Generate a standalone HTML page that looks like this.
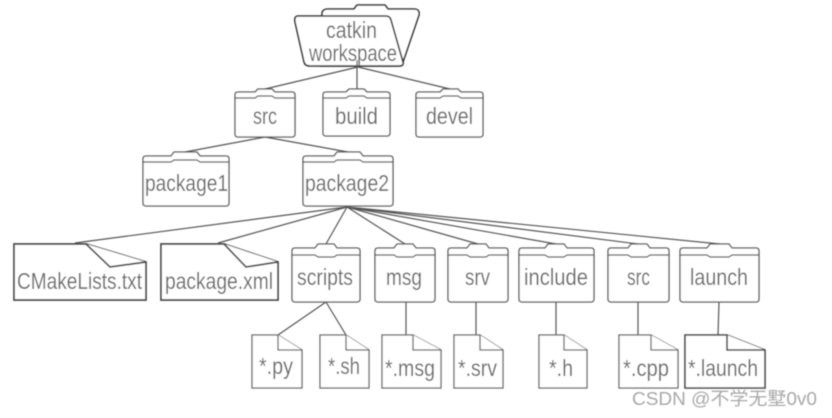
<!DOCTYPE html>
<html><head><meta charset="utf-8"><style>
html,body{margin:0;padding:0;background:#fff;width:832px;height:418px;overflow:hidden}
svg{display:block}
text{font-family:"Liberation Sans","Noto Sans CJK SC",sans-serif;font-size:23px;fill:#6a6a6a}
.l{stroke:#555;stroke-width:1.2;fill:none}
.f{stroke:#555;stroke-width:1.3;fill:#fff;stroke-linejoin:round}
.t{stroke:#333;stroke-width:1.6;fill:#fff;stroke-linejoin:round}
.d{stroke:#444;stroke-width:1.7;fill:#fff}
.m{stroke:#666;stroke-width:1.3;fill:#fff}
</style></head><body>
<svg width="832" height="418" viewBox="0 0 832 418" xmlns="http://www.w3.org/2000/svg">
<defs><filter id="b" x="-2%" y="-2%" width="104%" height="104%"><feGaussianBlur stdDeviation="0.4"/></filter></defs>
<g filter="url(#b)">
<!-- top folder -->
<path class="t" d="M322 14Q322 9 328 9H354L357 5H385L388 9H414Q420 9 419 15L403 62Q402 66 397 66H320Z"/>
<path class="t" d="M298 16H386Q390 16 391 20L403 62Q404 66 399 66H310Q305 66 304 62L295 22Q294 16 298 16Z"/>
<!-- connectors -->
<g class="l">
<path d="M358 67L265 89M357 60V89M358 67L450 89"/>
<path d="M265 137L185 152M265 137L348 152"/>
<path d="M347 207L75 243M347 207L218 243M347 207L326 244M347 207L405 244M347 207L478 244M347 207L556 244M347 207L638 244M347 207L720 244"/>
<path d="M326 302L278 335M326 302L346 335M406 302V335M476 302V335M556 302V335M638 302V335M719 302L718 335"/>
</g>
<!-- folders -->
<g class="f">
<path d="M238 92H255L258 89H272L275 92H292Q295 92 295 95V134Q295 137 292 137H238Q235 137 235 134V95Q235 92 238 92Z"/><path d="M235 98H255L258 96H272L275 98H295"/>
<path d="M326 92H346L349 89H364L367 92H387Q390 92 390 95V133Q390 136 387 136H326Q323 136 323 133V95Q323 92 326 92Z"/><path d="M323 98H346L349 96H364L367 98H390"/>
<path d="M419 92H440L443 89H458L461 92H480Q483 92 483 95V134Q483 137 480 137H419Q416 137 416 134V95Q416 92 419 92Z"/><path d="M416 98H440L443 96H458L461 98H483"/>
<path d="M146 156H171L174 152H197L200 156H226Q229 156 229 159V203Q229 206 226 206H146Q143 206 143 203V159Q143 156 146 156Z"/><path d="M143 162H171L174 160H197L200 162H229"/>
<path d="M306 156H334L337 152H360L363 156H390Q393 156 393 159V203Q393 206 390 206H306Q303 206 303 203V159Q303 156 306 156Z"/><path d="M303 162H334L337 160H360L363 162H393"/>
<path d="M295 248H315L318 244H334L337 248H357Q360 248 360 251V299Q360 302 357 302H295Q292 302 292 299V251Q292 248 295 248Z"/><path d="M292 255H315L318 257H334L337 255H360"/>
<path d="M378 248H394L397 244H413L416 248H432Q435 248 435 251V299Q435 302 432 302H378Q375 302 375 299V251Q375 248 378 248Z"/><path d="M375 255H394L397 257H413L416 255H435"/>
<path d="M451 248H467L470 244H486L489 248H505Q508 248 508 251V299Q508 302 505 302H451Q448 302 448 299V251Q448 248 451 248Z"/><path d="M448 255H467L470 257H486L489 255H508"/>
<path d="M522 248H545L548 244H564L567 248H591Q594 248 594 251V299Q594 302 591 302H522Q519 302 519 299V251Q519 248 522 248Z"/><path d="M519 255H545L548 257H564L567 255H594"/>
<path d="M611 248H628L631 244H647L650 248H666Q669 248 669 251V299Q669 302 666 302H611Q608 302 608 299V251Q608 248 611 248Z"/><path d="M608 255H628L631 257H647L650 255H669"/>
<path d="M683 248H707L710 244H729L732 248H756Q759 248 759 251V299Q759 302 756 302H683Q680 302 680 299V251Q680 248 683 248Z"/><path d="M680 255H707L710 257H729L732 255H759"/>
</g>
<!-- dark documents -->
<g class="d">
<path d="M14 244H86L146 262V300H14Z"/><path d="M86 244L110 267L146 262"/>
<path d="M161 244H224L278 262V300H161Z"/><path d="M224 244L246 267L278 262"/>
</g>
<!-- small documents -->
<g class="m">
<path d="M252 335H278L302 350V388H252Z"/><path d="M278 335V350H302"/>
<path d="M320 335H346L369 350V388H320Z"/><path d="M346 335V350H369"/>
<path d="M382 335H413L441 350V388H382Z"/><path d="M413 335V350H441"/>
<path d="M454 335H480L503 350V388H454Z"/><path d="M480 335V350H503"/>
<path d="M539 335H564L587 350V388H539Z"/><path d="M564 335V350H587"/>
<path d="M619 335H651L678 350V388H619Z"/><path d="M651 335V350H678"/>
<path d="M685 335H727L765 350V388H685Z" stroke-width="1.6" stroke="#444"/><path d="M727 335V350H765" stroke-width="1.6" stroke="#444"/>
</g>
<!-- labels -->
<text x="326" y="38" textLength="51" lengthAdjust="spacingAndGlyphs">catkin</text>
<text x="309" y="61" textLength="88" lengthAdjust="spacingAndGlyphs">workspace</text>
<text x="253" y="124" textLength="24" lengthAdjust="spacingAndGlyphs">src</text>
<text x="335" y="124" textLength="43" lengthAdjust="spacingAndGlyphs">build</text>
<text x="426" y="124" textLength="47" lengthAdjust="spacingAndGlyphs">devel</text>
<text x="145" y="191" textLength="83" lengthAdjust="spacingAndGlyphs">package1</text>
<text x="305" y="191" textLength="84" lengthAdjust="spacingAndGlyphs">package2</text>
<text x="17" y="289" textLength="125" lengthAdjust="spacingAndGlyphs">CMakeLists.txt</text>
<text x="165" y="289" textLength="108" lengthAdjust="spacingAndGlyphs">package.xml</text>
<text x="297" y="285" textLength="56" lengthAdjust="spacingAndGlyphs">scripts</text>
<text x="386" y="285" textLength="36" lengthAdjust="spacingAndGlyphs">msg</text>
<text x="465" y="285" textLength="25" lengthAdjust="spacingAndGlyphs">srv</text>
<text x="524" y="285" textLength="64" lengthAdjust="spacingAndGlyphs">include</text>
<text x="627" y="285" textLength="23" lengthAdjust="spacingAndGlyphs">src</text>
<text x="690" y="285" textLength="58" lengthAdjust="spacingAndGlyphs">launch</text>
<text x="259" y="374" textLength="34" lengthAdjust="spacingAndGlyphs">*.py</text>
<text x="328" y="374" textLength="32" lengthAdjust="spacingAndGlyphs">*.sh</text>
<text x="385" y="376" textLength="50" lengthAdjust="spacingAndGlyphs">*.msg</text>
<text x="458" y="376" textLength="39" lengthAdjust="spacingAndGlyphs">*.srv</text>
<text x="549" y="376" textLength="24" lengthAdjust="spacingAndGlyphs">*.h</text>
<text x="623" y="376" textLength="46" lengthAdjust="spacingAndGlyphs">*.cpp</text>
<text x="688" y="376" textLength="70" lengthAdjust="spacingAndGlyphs">*.launch</text>
<text x="632" y="405" textLength="185" lengthAdjust="spacingAndGlyphs" style="font-size:18px;fill:#a8a8a8">CSDN @不学无墅0v0</text>
</g>
</svg>
</body></html>
